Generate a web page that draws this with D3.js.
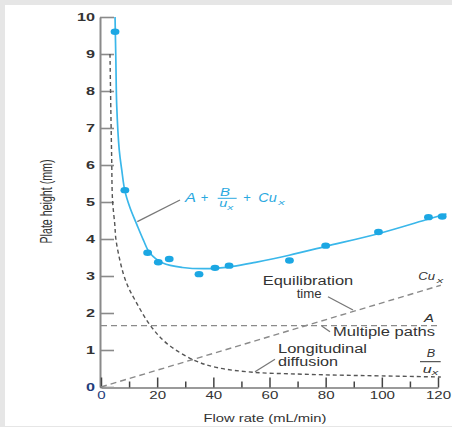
<!DOCTYPE html>
<html><head><meta charset="utf-8">
<script src="https://cdn.jsdelivr.net/npm/d3@7"></script>
<style>html,body{margin:0;padding:0;background:#e6e6e6;} svg{display:block;}</style>
</head><body>
<svg id="c" width="452" height="427"></svg>
<script>
// measured points
const flowRate    = [5.0, 8.5, 16.6, 20.4, 24.3, 34.9, 40.6, 45.6, 67.1, 80.0, 98.8, 116.6, 121.5];
const plateHeight = [9.6, 5.32, 3.63, 3.37, 3.46, 3.05, 3.22, 3.28, 3.42, 3.82, 4.19, 4.59, 4.61];
// fitted van Deemter curve
const fitFlow   = [5.0, 5.3, 5.6, 6.5, 7.4, 8.5, 10.3, 12.7, 15.1, 17.4, 22, 29, 39, 47, 55, 67, 80, 99, 116.6, 123];
const fitHeight = [10, 8.8, 7.6, 6.4, 5.86, 5.3, 4.85, 4.4, 3.97, 3.62, 3.35, 3.23, 3.2, 3.26, 3.37, 3.56, 3.8, 4.15, 4.54, 4.68];
// B/u term (longitudinal diffusion)
const diffFlow   = [3.2, 3.5, 3.8, 4.1, 4.9, 5.3, 6.5, 8.0, 9.7, 12.1, 17.5, 23.4, 33, 41, 54, 70, 85, 100, 121];
const diffHeight = [9.0, 7.5, 6.2, 5.05, 4.4, 4.0, 3.5, 3.05, 2.7, 2.35, 1.67, 1.18, 0.73, 0.53, 0.40, 0.35, 0.32, 0.30, 0.27];
// A term (multiple paths)
const multiFlow   = [0, 121];
const multiHeight = [1.66, 1.66];
// Cu term (equilibration time)
const equilFlow   = [0, 121];
const equilHeight = [0, 2.75];
// ticks
const xTicks = [0, 20, 40, 60, 80, 100, 120];
const xMinorTicks = [10, 30, 50, 70, 90, 110];
const yTicks = [0, 1, 2, 3, 4, 5, 6, 7, 8, 9, 10];

const svg = d3.select('#c');
const FONT = '"Liberation Sans", Arial, Helvetica, sans-serif';
svg.append('rect').attr('x',5).attr('y',5).attr('width',447).attr('height',421).attr('fill','#fff');

const x = d3.scaleLinear().domain([0,120]).range([101,438]);
const y = d3.scaleLinear().domain([0,10]).range([387,17]);

function T(sel, str, px, py, o){
  const t = sel.append('text').attr('x',px).attr('y',py).text(str)
    .attr('font-family',FONT).attr('font-size',o.size||12).attr('fill',o.fill||'#333')
    .attr('text-anchor',o.anchor||'start');
  if(o.italic) t.attr('font-style','italic');
  if(o.bold) t.attr('font-weight','bold');
  if(o.w){ t.attr('textLength',o.w).attr('lengthAdjust','spacingAndGlyphs'); }
  return t;
}

// Y axis
const gy = svg.append('g').attr('transform',`translate(${x(0)-1},0)`)
  .call(d3.axisLeft(y).tickValues(yTicks).tickFormat(d3.format('d')).tickSizeInner(-14).tickSizeOuter(0).tickPadding(5));
gy.select('.domain').attr('stroke','#8a8a8a').attr('stroke-width',2);
gy.selectAll('.tick line').attr('stroke','#8a8a8a').attr('stroke-width',1.6);
gy.selectAll('.tick text').attr('font-family',FONT).attr('font-size',11).attr('font-weight','bold')
  .attr('fill',d=>d===0?'#1f3d7a':'#333')
  .attr('textLength',d=>String(d).length*9).attr('lengthAdjust','spacingAndGlyphs');

// X axis
const gx = svg.append('g').attr('transform',`translate(0,${y(0)+0.5})`)
  .call(d3.axisBottom(x).tickValues(xTicks).tickFormat(d3.format('d')).tickSizeInner(-10).tickSizeOuter(0).tickPadding(4));
gx.select('.domain').attr('stroke','#9a9a9a').attr('stroke-width',2.2);
gx.selectAll('.tick line').attr('stroke','#444').attr('stroke-width',1.5);
gx.selectAll('.tick text').attr('font-family',FONT).attr('font-size',11)
  .attr('fill',d=>d===0?'#1f3d7a':'#333')
  .attr('textLength',d=>String(d).length*8.4).attr('lengthAdjust','spacingAndGlyphs');
const gxm = svg.append('g').attr('transform',`translate(0,${y(0)+0.5})`)
  .call(d3.axisBottom(x).tickValues(xMinorTicks).tickFormat('').tickSizeInner(-6).tickSizeOuter(0));
gxm.select('.domain').remove();
gxm.selectAll('.tick line').attr('stroke','#444').attr('stroke-width',1.5);

// Axis titles
T(svg,'Flow rate (mL/min)',265,421.5,{size:11.5,anchor:'middle',w:123,fill:'#333'});
svg.append('text').attr('transform','translate(52,201.5) scale(1.45,1) rotate(-90)')
  .attr('text-anchor','middle').attr('font-family',FONT).attr('font-size',11).attr('fill','#333')
  .attr('textLength',84).attr('lengthAdjust','spacingAndGlyphs').text('Plate height (mm)');

// Component lines
const lineGen = d3.line().x(d=>x(d[0])).y(d=>y(d[1]));
svg.append('path').datum(d3.zip(multiFlow,multiHeight)).attr('d',lineGen)
  .attr('fill','none').attr('stroke','#8a8a8a').attr('stroke-width',1.4).attr('stroke-dasharray','6,4');
svg.append('path').datum(d3.zip(equilFlow,equilHeight)).attr('d',lineGen)
  .attr('fill','none').attr('stroke','#8a8a8a').attr('stroke-width',1.4).attr('stroke-dasharray','6,4');
const curveGen = d3.line().x(d=>x(d[0])).y(d=>y(d[1])).curve(d3.curveCatmullRom.alpha(0.5));
svg.append('path').datum(d3.zip(diffFlow,diffHeight)).attr('d',curveGen)
  .attr('fill','none').attr('stroke','#555').attr('stroke-width',1.4).attr('stroke-dasharray','4,3');

// Fitted curve
svg.append('path').datum(d3.zip(fitFlow,fitHeight)).attr('d',curveGen)
  .attr('fill','none').attr('stroke','#3ab7ea').attr('stroke-width',1.7);
// Points
svg.append('g').selectAll('ellipse').data(d3.zip(flowRate,plateHeight)).join('ellipse')
  .attr('cx',d=>x(d[0])).attr('cy',d=>y(d[1])).attr('rx',4.4).attr('ry',3.2)
  .attr('fill','#1ca7e3');

// Leader lines
const lead = [[137.3,221.7,180,200],[328,296.7,353,310],[321.7,326,330,331.7],[255,371.7,275,359.3]];
svg.append('g').selectAll('line').data(lead).join('line')
  .attr('x1',d=>d[0]).attr('y1',d=>d[1]).attr('x2',d=>d[2]).attr('y2',d=>d[3])
  .attr('stroke','#777').attr('stroke-width',1.3);

// Formula label (blue)
const BL = '#2aa8e0';
T(svg,'A',185,201.7,{size:12.5,italic:true,fill:BL,w:11});
T(svg,'+',200.7,201.7,{size:12,fill:BL,w:7.6});
T(svg,'B',220,196,{size:11.5,italic:true,fill:BL,w:10});
svg.append('line').attr('x1',217.7).attr('x2',236.7).attr('y1',198.3).attr('y2',198.3).attr('stroke',BL).attr('stroke-width',1);
T(svg,'u',219.3,206.7,{size:11.5,italic:true,fill:BL,w:8});
T(svg,'x',227.3,210,{size:8,italic:true,fill:BL,w:6});
T(svg,'+',243.3,201.7,{size:12,fill:BL,w:7.6});
T(svg,'Cu',258.3,201.7,{size:12.5,italic:true,fill:BL,w:18.4});
T(svg,'x',278.3,204.5,{size:8,italic:true,fill:BL,w:6.5});

// Component labels
T(svg,'Equilibration',262.7,285,{size:12,w:90.6});
T(svg,'time',296.7,298.3,{size:12,w:25});
T(svg,'Multiple paths',333,336,{size:12,w:102});
T(svg,'Longitudinal',278,352.7,{size:12,w:89});
T(svg,'diffusion',278,366,{size:12,w:60});

// Right-side term labels
T(svg,'Cu',418.3,280,{size:11.5,italic:true,w:16.7});
T(svg,'x',436.7,283.3,{size:8,italic:true,w:6.5});
T(svg,'A',424,322.3,{size:11.5,italic:true,w:10});
T(svg,'B',426.7,357.3,{size:11,italic:true,w:8.4});
svg.append('line').attr('x1',420).attr('x2',440.7).attr('y1',361.7).attr('y2',361.7).attr('stroke','#333').attr('stroke-width',1);
T(svg,'u',422.7,372.7,{size:11,italic:true,w:9});
T(svg,'x',431.7,375,{size:8,italic:true,w:6.5});
</script>
</body></html>
